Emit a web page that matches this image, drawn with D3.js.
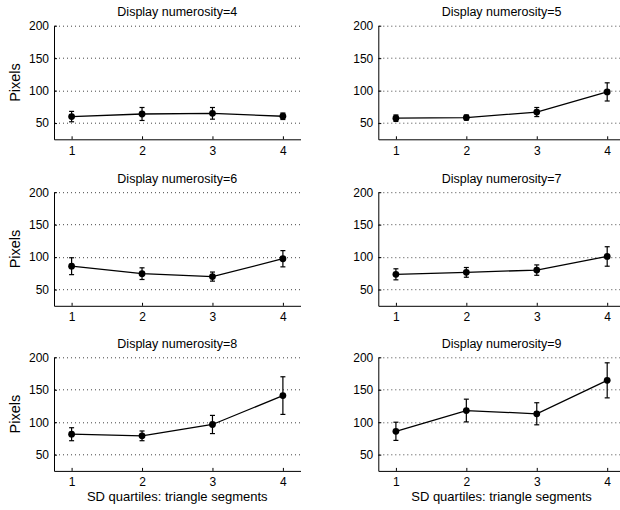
<!DOCTYPE html>
<html lang="en">
<head>
	<meta charset="utf-8">
	<title>Display numerosity panels</title>
	<script type="text/javascript" src="https://cdn.jsdelivr.net/npm/d3@7/dist/d3.min.js"></script>
<style>
	body {
		margin: 0;
		background: white;
		font-family: "Liberation Sans", Arial, sans-serif;
	}
	.axis path, .axis line { stroke: black; stroke-width: 1; }
	.axis text { font-size: 12px; fill: black; font-family: "Liberation Sans", Arial, sans-serif; }
	.grid line { stroke: #444; stroke-width: 1; stroke-dasharray: 1,3; }
</style>
</head>
<body>
<svg id="chart" width="620" height="510"></svg>
<script type="text/javascript">

//data: one row per display numerosity, one value per SD quartile
var quartiles = [1, 2, 3, 4]
var numerosities = [4, 5, 6, 7, 8, 9]
var means = [
	[60, 64, 65, 60.5],
	[57.5, 58.5, 67, 98],
	[86, 74.5, 70, 97.5],
	[73.5, 76.5, 80, 101],
	[81.5, 79, 96.5, 141],
	[86, 118, 113, 164.5]
]
var errors = [
	[8, 10, 9, 5],
	[5, 4, 7, 14],
	[13, 9, 7, 12.5],
	[8.5, 7.5, 8, 15],
	[10, 7.5, 14, 29],
	[14, 17.5, 17, 27]
]
var yTicks = [50, 100, 150, 200]
var yLabel = "Pixels"
var xLabel = "SD quartiles: triangle segments"

//panel layout (2 columns x 3 rows)
var colX = [54, 378.3]
var rowY = [25.7, 192.2, 357.3]
var pw = 246.5, ph = 113.6

var svg = d3.select("#chart")

var x = d3.scaleLinear().domain([0.75, 4.25]).range([0, pw])
var y = d3.scaleLinear().domain([25, 200]).range([ph, 0])

var line = d3.line()
	.x(function(d) { return x(d.q) })
	.y(function(d) { return y(d.m) })

numerosities.forEach(function(n, i) {
	var col = i % 2, row = Math.floor(i / 2)
	var g = svg.append("g").attr("transform", "translate(" + colX[col] + "," + rowY[row] + ")")
	var pts = quartiles.map(function(q, j) { return {q: q, m: means[i][j], e: errors[i][j]} })

	//dotted grid
	g.append("g").attr("class", "grid").selectAll("line")
		.data(yTicks).enter().append("line")
		.attr("x1", 1).attr("x2", pw)
		.attr("y1", function(d) { return Math.round(y(d)) + 0.5 })
		.attr("y2", function(d) { return Math.round(y(d)) + 0.5 })

	//axes, ticks pointing inwards
	g.append("g").attr("class", "axis")
		.call(d3.axisLeft(y).tickValues(yTicks).tickSizeInner(-3).tickSizeOuter(0).tickPadding(5))
	g.append("g").attr("class", "axis")
		.attr("transform", "translate(0," + ph + ")")
		.call(d3.axisBottom(x).tickValues(quartiles).tickFormat(d3.format("d")).tickSizeInner(-3).tickSizeOuter(0).tickPadding(7))

	//title
	g.append("text")
		.attr("x", pw / 2).attr("y", -9.5)
		.attr("text-anchor", "middle")
		.style("font-size", "12.5px")
		.text("Display numerosity=" + n)

	if (col == 0) {
		g.append("text")
			.attr("transform", "translate(" + (20 - colX[0]) + "," + (ph / 2) + ") rotate(-90)")
			.attr("text-anchor", "middle")
			.style("font-size", "14.5px")
			.text(yLabel)
	}
	if (row == 2) {
		g.append("text")
			.attr("x", pw / 2).attr("y", ph + 30)
			.attr("text-anchor", "middle")
			.style("font-size", "13px")
			.text(xLabel)
	}

	//mean line
	g.append("path").datum(pts)
		.attr("d", line)
		.attr("fill", "none")
		.attr("stroke", "black")
		.attr("stroke-width", 1.3)

	//error bars
	var eb = g.selectAll(".eb").data(pts).enter().append("g").attr("class", "eb")
	eb.append("line")
		.attr("x1", function(d) { return x(d.q) }).attr("x2", function(d) { return x(d.q) })
		.attr("y1", function(d) { return y(d.m - d.e) }).attr("y2", function(d) { return y(d.m + d.e) })
		.attr("stroke", "black").attr("stroke-width", 1.2)
	;[-1, 1].forEach(function(s) {
		eb.append("line")
			.attr("x1", function(d) { return x(d.q) - 2.5 }).attr("x2", function(d) { return x(d.q) + 2.5 })
			.attr("y1", function(d) { return y(d.m + s * d.e) }).attr("y2", function(d) { return y(d.m + s * d.e) })
			.attr("stroke", "black").attr("stroke-width", 1.2)
	})

	//markers
	g.selectAll("circle").data(pts).enter().append("circle")
		.attr("cx", function(d) { return x(d.q) })
		.attr("cy", function(d) { return y(d.m) })
		.attr("r", 3.4)
		.attr("fill", "black")
})

</script>
</body>
</html>
